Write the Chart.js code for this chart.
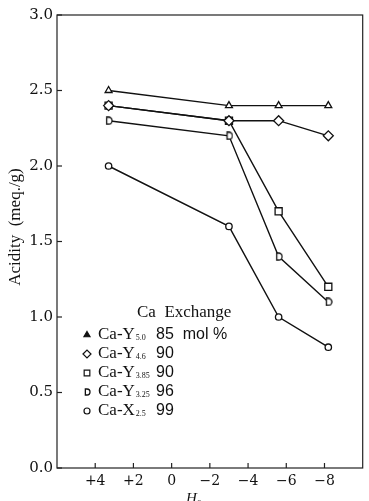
<!DOCTYPE html>
<html><head><meta charset="utf-8">
<script src="https://cdn.jsdelivr.net/npm/chart.js@4/dist/chart.umd.min.js"></script>
<style>html,body{margin:0;padding:0;background:#fff}canvas{display:block}</style>
</head><body>
<canvas id="c" width="369" height="501" style="width:369px;height:501px"></canvas>
<script>
// H0 indicator values (x) and acidity (meq./g)
const h0Values = [3.3, -3.0, -5.6, -8.2];
const caY50 = [2.5, 2.4, 2.4, 2.4];
const caY46 = [2.4, 2.3, 2.3, 2.2];
const caY385 = [2.4, 2.3, 1.7, 1.2];
const caY325 = [2.3, 2.2, 1.4, 1.1];
const caX25 = [2.0, 1.6, 1.0, 0.8];
const xTickValues = [4, 2, 0, -2, -4, -6, -8];
const xTickLabels = ['+4', '+2', '0', '\u22122', '\u22124', '\u22126', '\u22128'];
const yTickLabels = ['0.0', '0.5', '1.0', '1.5', '2.0', '2.5', '3.0'];
const legendTitle = 'Ca  Exchange';
const legendNames = ['Ca-Y', 'Ca-Y', 'Ca-Y', 'Ca-Y', 'Ca-X'];
const legendSubs = ['5.0', '4.6', '3.85', '3.25', '2.5'];
const legendPct = ['85  mol %', '90', '90', '96', '99'];

function dShape(size) {
  const cv = document.createElement('canvas');
  cv.width = size; cv.height = size;
  const g = cv.getContext('2d');
  g.lineWidth = 1.3; g.strokeStyle = '#111'; g.fillStyle = '#fff';
  const c = size / 2, r = size / 2 - 1;
  const left = c - r * 0.55;
  g.beginPath();
  g.moveTo(left, c - r);
  g.lineTo(c, c - r);
  g.arc(c, c, r, -Math.PI / 2, Math.PI / 2);
  g.lineTo(left, c + r);
  g.closePath();
  g.fill(); g.stroke();
  return cv;
}
const dImg = dShape(9);
const dImgSmall = dShape(8);

function pts(ys) { return ys.map((y, i) => ({x: h0Values[i], y})); }
const common = {borderColor: '#111', borderWidth: 1.4, pointBackgroundColor: '#fff', pointBorderColor: '#111', pointBorderWidth: 1.3, tension: 0, fill: false};
const datasets = [
  Object.assign({label: 'Ca-Y5.0', data: pts(caY50), pointStyle: 'triangle', pointRadius: 4}, common),
  Object.assign({label: 'Ca-Y4.6', data: pts(caY46), pointStyle: 'rectRot', pointRadius: 5}, common),
  Object.assign({label: 'Ca-Y3.85', data: pts(caY385), pointStyle: 'rect', pointRadius: 5}, common),
  Object.assign({label: 'Ca-Y3.25', data: pts(caY325), pointStyle: dImg, pointRadius: 4}, common),
  Object.assign({label: 'Ca-X2.5', data: pts(caX25), pointStyle: 'circle', pointRadius: 3.2}, common)
];

const decor = {
  id: 'decor',
  afterDraw(chart) {
    const ctx = chart.ctx, a = chart.chartArea;
    const xs = chart.scales.x, ys = chart.scales.y;
    ctx.save();
    ctx.strokeStyle = '#222'; ctx.lineWidth = 1.2;
    ctx.strokeRect(a.left, a.top, a.right - a.left, a.bottom - a.top);
    ys.ticks.forEach(t => {
      const y = ys.getPixelForValue(t.value);
      ctx.beginPath(); ctx.moveTo(a.left, y); ctx.lineTo(a.left + 5, y); ctx.stroke();
    });
    xs.ticks.forEach(t => {
      const x = xs.getPixelForValue(t.value);
      ctx.beginPath(); ctx.moveTo(x, a.bottom); ctx.lineTo(x, a.bottom - 5); ctx.stroke();
    });
    // axis titles
    ctx.fillStyle = '#111';
    ctx.save();
    ctx.translate(16, 227); ctx.rotate(-Math.PI / 2);
    ctx.font = '17px "Liberation Serif", serif';
    ctx.textAlign = 'center'; ctx.textBaseline = 'middle';
    ctx.fillText('Acidity  (meq./g)', 0, 0);
    ctx.restore();
    ctx.font = 'italic 15px "Liberation Serif", serif';
    ctx.textAlign = 'left'; ctx.textBaseline = 'alphabetic';
    ctx.fillText('H', 186, 503);
    ctx.font = '9px "Liberation Serif", serif';
    ctx.fillText('0', 197, 506);
    // legend
    ctx.font = '17px "Liberation Serif", serif';
    ctx.textBaseline = 'middle';
    ctx.fillText(legendTitle, 137, 313);
    const styles = ['triangle', 'rectRot', 'rect', dImgSmall, 'circle'];
    const radii = [3.5, 4, 4, 4, 3];
    const rowY = [335, 354, 373, 392, 411];
    for (let i = 0; i < 5; i++) {
      const y = rowY[i];
      ctx.lineWidth = 1.2; ctx.strokeStyle = '#111';
      ctx.fillStyle = i === 0 ? '#111' : '#fff';
      Chart.helpers.drawPoint(ctx, {pointStyle: styles[i], radius: radii[i], borderWidth: 1.2}, 87, y);
      ctx.fillStyle = '#111';
      ctx.font = '17px "Liberation Serif", serif';
      ctx.fillText(legendNames[i], 98, y);
      let x = 98 + ctx.measureText(legendNames[i]).width + 1;
      ctx.font = '8px "Liberation Serif", serif';
      ctx.fillText(legendSubs[i], x, y + 3);
      x += ctx.measureText(legendSubs[i]).width + 2;
      ctx.font = '16px "Liberation Sans", sans-serif';
      ctx.fillText(legendPct[i], Math.max(x, 156), y);
    }
    ctx.restore();
  }
};

new Chart(document.getElementById('c'), {
  type: 'line',
  data: {datasets},
  options: {
    responsive: false, animation: false, devicePixelRatio: 1,
    layout: {padding: {top: 15, right: 2, left: 0, bottom: 0}},
    plugins: {legend: {display: false}, tooltip: {enabled: false}},
    scales: {
      x: {
        type: 'linear', reverse: true, min: -10, max: 6,
        afterBuildTicks(s) { s.ticks = xTickValues.map(v => ({value: v})); },
        afterFit(s) { s.height = 33; },
        grid: {display: false, drawTicks: false},
        border: {display: false},
        ticks: {padding: 5, color: '#111', font: {family: '"DejaVu Serif", serif', size: 14},
          callback: (v) => { const i = xTickValues.indexOf(v); return i >= 0 ? xTickLabels[i] : ''; }}
      },
      y: {
        type: 'linear', min: 0, max: 3,
        afterBuildTicks(s) { s.ticks = yTickLabels.map(l => ({value: parseFloat(l)})); },
        afterFit(s) { s.width = 57; },
        grid: {display: false, drawTicks: false},
        border: {display: false},
        ticks: {padding: 4, color: '#111', font: {family: '"DejaVu Serif", serif', size: 15},
          callback: (v) => { const i = yTickLabels.findIndex(l => parseFloat(l) === v); return i >= 0 ? yTickLabels[i] : ''; }}
      }
    }
  },
  plugins: [decor]
});
</script>
</body></html>
